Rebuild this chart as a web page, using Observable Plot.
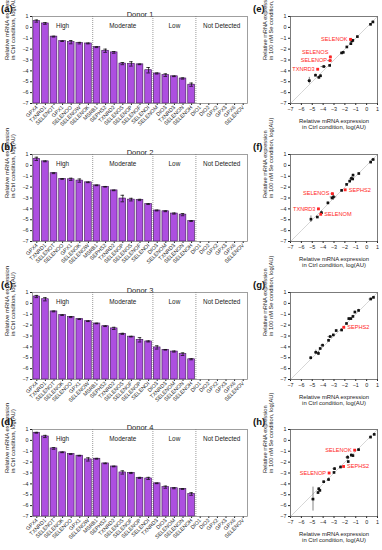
<!DOCTYPE html>
<html><head><meta charset="utf-8">
<script src="https://cdn.jsdelivr.net/npm/d3@7"></script>
<script src="https://cdn.jsdelivr.net/npm/@observablehq/plot@0.6"></script>
<style>
body{margin:0;background:#fff;}
#chart{position:relative;width:382px;height:550px;overflow:hidden;font-family:Arial,"Liberation Sans",sans-serif;}
#chart svg{position:absolute;overflow:visible;}
.plbl{position:absolute;font-weight:bold;font-size:9.5px;line-height:11px;color:#111;font-family:Arial,"Liberation Sans",sans-serif;}
</style></head><body><div id="chart"></div>
<script>
// ---------- data ----------
const donors = ["Donor 1","Donor 2","Donor 3","Donor 4"];
const panelLetters = ["(a)","(b)","(c)","(d)"];
const scatterLetters = ["(e)","(f)","(g)","(h)"];
const groups = ["High","Moderate","Low","Not Detected"];
const notDetected = ["DIO1","DIO2","GPX2","GPX3","GPX6","SELENOV"];
const axisTicks = [-7,-6,-5,-4,-3,-2,-1,0,1];
const barYTitle = ["Relative mRNA expression", "in Ctrl condition, log(AU)"];
const scYTitle = ["Relative mRNA expression", "in 100 nM Se condition, log(AU)"];
const scXTitle = ["Relative mRNA expression", "in Ctrl condition, log(AU)"];

const genes1 = ["GPX4","TXNRD1","SELENOT","GPX1","SELENOO","SELENOW","SELENOK","MSRB1","SEPHS2","TXNRD2","SELENOS","SELENOP","SELENOF","SELENOI","SELENOM","DIO3","TXNRD3","SELENON","SELENOH"];
const ctrl1 = [0.58,0.36,-0.85,-1.27,-1.36,-1.45,-1.48,-1.82,-2.15,-2.3,-3.33,-3.36,-3.4,-3.94,-4.24,-4.39,-4.5,-4.7,-5.27];
const ctrlErr1 = [0.1,0.08,0.04,0.03,0.15,0.07,0.04,0.04,0.15,0.08,0.1,0.2,0.03,0.25,0.05,0.12,0.03,0.06,0.15];
const se1 = [0.5,0.28,-0.85,-1.2,-1.25,-1.5,-1.1,-1.8,-2.3,-2.35,-2.72,-3.05,-3.5,-3.6,-4.45,-4.6,-3.85,-4.4,-4.9];
const seErr1 = [0.08,0.08,0.05,0.1,0.1,0.08,0.05,0.05,0.1,0.05,0.08,0.1,0.05,0.1,0.1,0.1,0.05,0.1,0.3];
const red1 = ["SELENOK","SELENOS","SELENOP","TXNRD3"];

const genes2 = ["GPX4","TXNRD1","SELENOT","SELENOO","GPX1","SELENOK","SELENOW","MSRB1","SEPHS2","TXNRD2","SELENOP","SELENOS","SELENOF","SELENOI","DIO3","SELENOM","TXNRD3","SELENON","SELENOH"];
const ctrl2 = [0.6,0.37,-0.72,-1.25,-1.28,-1.4,-1.56,-1.84,-1.97,-2.3,-3.05,-3.15,-3.18,-3.56,-4.15,-4.22,-4.43,-4.53,-5.12];
const ctrlErr2 = [0.15,0.04,0.04,0.04,0.1,0.15,0.03,0.03,0.03,0.03,0.3,0.12,0.06,0.04,0.04,0.04,0.05,0.1,0.04];
const se2 = [0.54,0.3,-0.75,-0.9,-1.25,-1.2,-1.45,-1.75,-2.25,-2.3,-2.9,-2.6,-3.0,-3.45,-4.35,-4.5,-4.0,-4.75,-4.95];
const seErr2 = [0.1,0.1,0.05,0.1,0.1,0.15,0.1,0.05,0.05,0.05,0.3,0.05,0.05,0.1,0.15,0.05,0.05,0.05,0.3];
const red2 = ["SELENOS","SEPHS2","TXNRD3","SELENOM"];

const genes3 = ["GPX4","TXNRD1","SELENOT","SELENOK","SELENOO","GPX1","SELENOW","MSRB1","SEPHS2","TXNRD2","SELENOS","SELENOF","SELENOP","SELENOI","DIO3","TXNRD3","SELENOM","SELENON","SELENOH"];
const ctrl3 = [0.63,0.38,-0.74,-1.08,-1.26,-1.45,-1.64,-1.85,-2.1,-2.3,-2.8,-3.06,-3.35,-3.5,-4.05,-4.27,-4.43,-4.67,-5.14];
const ctrlErr3 = [0.1,0.15,0.04,0.03,0.05,0.03,0.03,0.03,0.03,0.1,0.05,0.03,0.2,0.05,0.15,0.03,0.05,0.12,0.05];
const se3 = [0.55,0.4,-0.65,-0.8,-1.2,-1.4,-1.4,-1.85,-2.2,-2.45,-2.5,-2.9,-3.05,-3.4,-3.85,-4.15,-4.6,-4.5,-5.0];
const seErr3 = [0.1,0.1,0.1,0.1,0.1,0.1,0.1,0.05,0.05,0.1,0.1,0.05,0.1,0.1,0.1,0.1,0.2,0.2,0.1];
const red3 = ["SEPHS2"];

const genes4 = ["GPX4","TXNRD1","SELENOT","SELENOK","SELENOO","GPX1","SELENOW","MSRB1","SEPHS2","TXNRD2","SELENOS","SELENOF","SELENOP","SELENOI","TXNRD3","DIO3","SELENOM","SELENON","SELENOH"];
const ctrl4 = [0.7,0.36,-0.74,-1.1,-1.26,-1.41,-1.75,-1.69,-2.12,-2.4,-2.95,-3.0,-3.45,-3.5,-3.95,-4.3,-4.4,-4.47,-4.93];
const ctrlErr4 = [0.04,0.1,0.08,0.03,0.03,0.03,0.15,0.04,0.03,0.03,0.15,0.05,0.05,0.1,0.03,0.1,0.05,0.04,0.12];
const se4 = [0.55,0.3,-0.85,-0.9,-1.4,-1.35,-1.55,-1.95,-2.4,-2.45,-2.6,-2.95,-3.0,-3.6,-3.8,-4.6,-4.45,-4.8,-5.4];
const seErr4 = [0.1,0.1,0.05,0.05,0.1,0.1,0.15,0.05,0.05,0.1,0.1,0.05,0.05,0.15,0.05,0.1,0.1,0.1,1.1];
const red4 = ["SELENOK","SEPHS2","SELENOP"];

// ---------- rendering ----------
const FONT = 'Arial, "Liberation Sans", sans-serif';
const PURPLE = "#ad4fe0", REDC = "#ff2424";
const rowTops = [0, 138.3, 275.8, 413];
const chart = document.getElementById("chart");
// label placement (style, not data)
const rightLabels = [[], ["SEPHS2","SELENOM"], ["SEPHS2"], ["SEPHS2"]];
const raisedLabels = [["SELENOS"], [], [], []];

function barChart(genes, ctrl, err, title) {
  const data = genes.map((g, i) => ({gene: g, v: ctrl[i], e: err[i]}));
  const all = genes.concat(notDetected);
  const W = 250, ML = 32, MR = 3, MT = 16, MB = 31, PH = 87;
  const step = (W - ML - MR) / all.length;
  const bounds = [all[7], all[14], all[19]];
  const gl = [{t: groups[0], x: all[3]}, {t: groups[1], x: all[10]}, {t: groups[2], x: all[16]}, {t: groups[3], x: all[22]}];
  return Plot.plot({
    width: W, height: MT + PH + MB, marginLeft: ML, marginRight: MR, marginTop: MT, marginBottom: MB,
    style: {fontFamily: FONT, fontSize: "5.3px", color: "#222", background: "transparent", overflow: "visible"},
    x: {domain: all, paddingInner: 0.22, paddingOuter: 0.11, round: false, label: null, tickRotate: -45, tickSize: 2, tickPadding: 1},
    y: {domain: [-7, 1], ticks: axisTicks, tickSize: 2, tickPadding: 2, label: null},
    marks: [
      Plot.barY(data, {x: "gene", y1: -7, y2: "v", fill: PURPLE, stroke: "#3c1452", strokeWidth: 0.6}),
      Plot.ruleX(data, {x: "gene", y1: d => d.v - d.e, y2: d => d.v + d.e, stroke: "#111", strokeWidth: 0.8}),
      Plot.tickY(data, {x: "gene", y: d => d.v - d.e, stroke: "#111", strokeWidth: 0.8, insetLeft: 1.6, insetRight: 1.6}),
      Plot.tickY(data, {x: "gene", y: d => d.v + d.e, stroke: "#111", strokeWidth: 0.8, insetLeft: 1.6, insetRight: 1.6}),
      Plot.ruleX(bounds, {x: d => d, dx: -step / 2, stroke: "#555", strokeWidth: 0.6, strokeDasharray: "1,1"}),
      Plot.text(gl.slice(0, 3), {x: "x", text: "t", frameAnchor: "top", dy: 7, fontSize: 6.4, fill: "#222"}),
      Plot.text(gl.slice(3), {x: "x", text: "t", frameAnchor: "top", dy: 7, dx: -step / 2, fontSize: 6.4, fill: "#222"}),
      Plot.text([title], {text: d => d, frameAnchor: "top", dy: -5, fontSize: 7.5, fill: "#222"}),
      Plot.text(barYTitle.slice(0, 1), {text: d => d, frameAnchor: "left", dx: -25.3, rotate: -90, fontSize: 5.9, fill: "#222"}),
      Plot.text(barYTitle.slice(1), {text: d => d, frameAnchor: "left", dx: -19.8, rotate: -90, fontSize: 5.9, fill: "#222"}),
      Plot.frame({stroke: "#777", strokeWidth: 0.7})
    ]
  });
}

function scatter(k, genes, ctrl, ctrlErr, se, seErr, red) {
  const pts = genes.map((g, i) => ({g, x: ctrl[i], y: se[i], ex: ctrlErr[i], ey: seErr[i], red: red.includes(g)}));
  const reds = pts.filter(d => d.red);
  const rightL = reds.filter(d => rightLabels[k].includes(d.g));
  const leftL = reds.filter(d => !rightLabels[k].includes(d.g) && !raisedLabels[k].includes(d.g));
  const upL = reds.filter(d => raisedLabels[k].includes(d.g));
  return Plot.plot({
    width: 124, height: 133, marginLeft: 32, marginRight: 5, marginTop: 16, marginBottom: 30,
    style: {fontFamily: FONT, fontSize: "5.4px", color: "#222", background: "transparent", overflow: "visible"},
    x: {domain: [-7, 1], ticks: axisTicks, tickSize: 2, tickPadding: 2, label: null},
    y: {domain: [-7, 1], ticks: axisTicks, tickSize: 2, tickPadding: 2, label: null},
    marks: [
      Plot.line(axisTicks, {x: d => d, y: d => d, stroke: "#c4c4c4", strokeWidth: 0.7}),
      Plot.ruleY(pts, {y: "y", x1: d => d.x - d.ex, x2: d => d.x + d.ex, stroke: "#333", strokeWidth: 0.6}),
      Plot.ruleX(pts, {x: "x", y1: d => d.y - d.ey, y2: d => d.y + d.ey, stroke: "#333", strokeWidth: 0.6}),
      Plot.dot(pts.filter(d => !d.red), {x: "x", y: "y", r: 1.5, fill: "#111", symbol: "square"}),
      Plot.dot(reds, {x: "x", y: "y", r: 1.6, fill: REDC, symbol: "square"}),
      Plot.text(leftL, {x: "x", y: "y", text: "g", textAnchor: "end", dx: -3, fill: REDC, fontSize: 5.6}),
      Plot.text(upL, {x: "x", y: "y", text: "g", textAnchor: "end", dx: -2, dy: -5, fill: REDC, fontSize: 5.6}),
      Plot.text(rightL, {x: "x", y: "y", text: "g", textAnchor: "start", dx: 3.5, fill: REDC, fontSize: 5.6}),
      Plot.text(scXTitle.slice(0, 1), {text: d => d, frameAnchor: "bottom", dy: 19.8, fontSize: 5.9, fill: "#222"}),
      Plot.text(scXTitle.slice(1), {text: d => d, frameAnchor: "bottom", dy: 25.6, fontSize: 5.9, fill: "#222"}),
      Plot.text(scYTitle.slice(0, 1), {text: d => d, frameAnchor: "left", dx: -25, rotate: -90, fontSize: 5.7, fill: "#222"}),
      Plot.text(scYTitle.slice(1), {text: d => d, frameAnchor: "left", dx: -19.2, rotate: -90, fontSize: 5.7, fill: "#222"}),
      Plot.frame({stroke: "#444", strokeWidth: 0.7})
    ]
  });
}

const sets = [
  [genes1, ctrl1, ctrlErr1, se1, seErr1, red1],
  [genes2, ctrl2, ctrlErr2, se2, seErr2, red2],
  [genes3, ctrl3, ctrlErr3, se3, seErr3, red3],
  [genes4, ctrl4, ctrlErr4, se4, seErr4, red4]
];

sets.forEach(([g, c, ce, s, sErr, r], k) => {
  const top = rowTops[k];
  const b = barChart(g, c, ce, donors[k]);
  b.style.left = "0px"; b.style.top = top + "px";
  chart.appendChild(b);
  const sc = scatter(k, g, c, ce, s, sErr, r);
  sc.style.left = "258px"; sc.style.top = top + "px";
  chart.appendChild(sc);
  const l1 = document.createElement("div");
  l1.className = "plbl"; l1.textContent = panelLetters[k];
  l1.style.left = "1px"; l1.style.top = (top + 3) + "px";
  chart.appendChild(l1);
  const l2 = document.createElement("div");
  l2.className = "plbl"; l2.textContent = scatterLetters[k];
  l2.style.left = "253px"; l2.style.top = (top + 3) + "px";
  chart.appendChild(l2);
});
</script>
</body></html>
